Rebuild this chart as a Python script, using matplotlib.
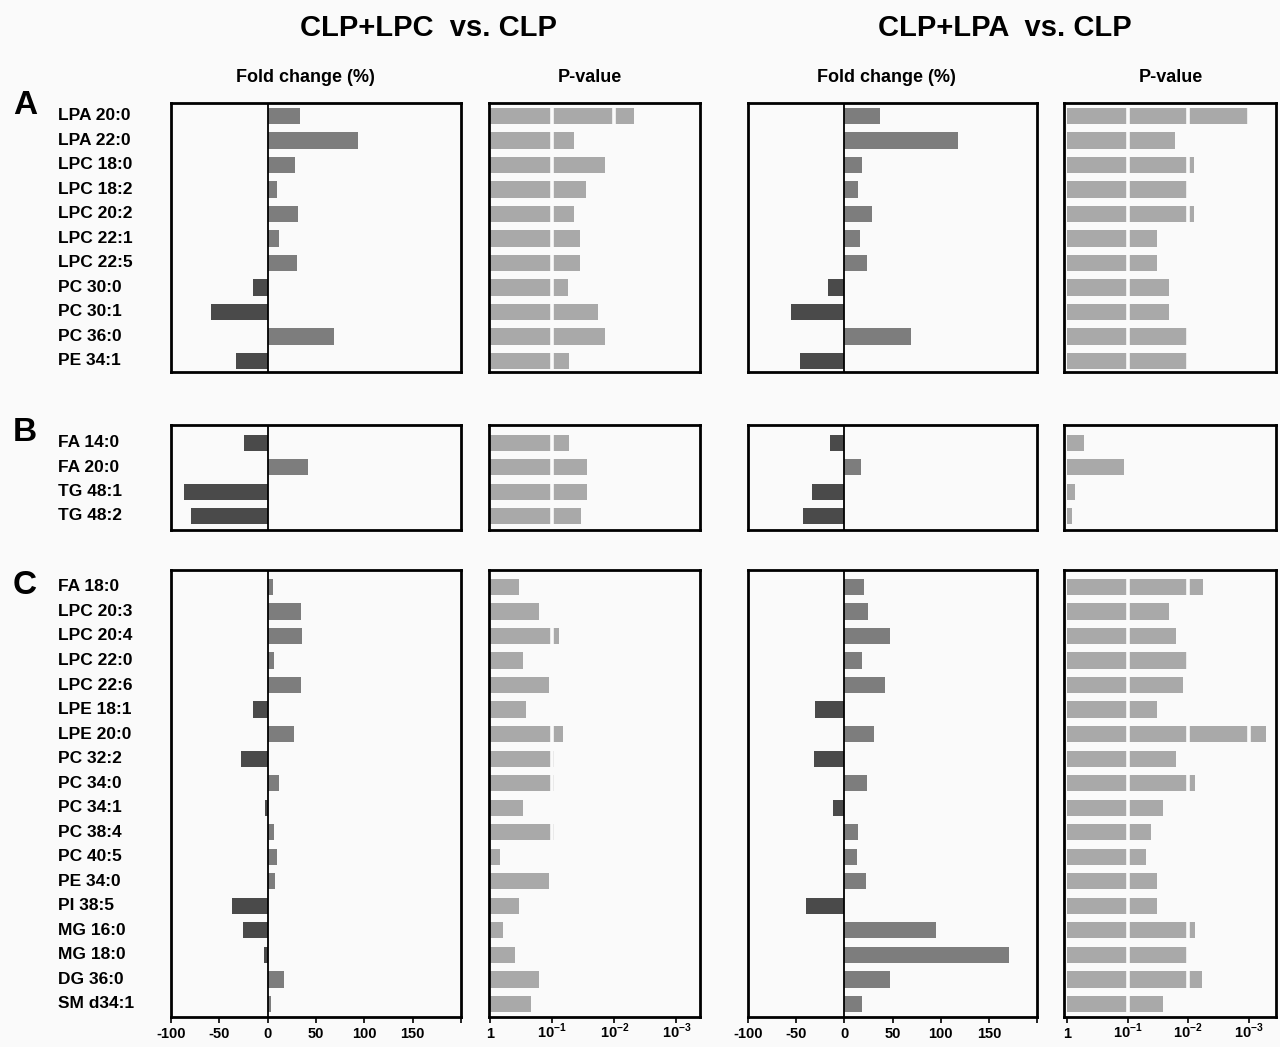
import matplotlib
matplotlib.use("Agg")
import matplotlib.pyplot as plt
import matplotlib.transforms as mtransforms
import numpy as np

plt.rcParams['font.family'] = ['Liberation Sans', 'DejaVu Sans']
plt.rcParams['font.weight'] = 'bold'
plt.rcParams['mathtext.fontset'] = 'custom'
plt.rcParams['mathtext.rm'] = 'Liberation Sans:bold'
plt.rcParams['mathtext.bf'] = 'Liberation Sans:bold'

# ---------------- data ----------------
labels_A = ["LPA 20:0", "LPA 22:0", "LPC 18:0", "LPC 18:2", "LPC 20:2", "LPC 22:1",
            "LPC 22:5", "PC 30:0", "PC 30:1", "PC 36:0", "PE 34:1"]
labels_B = ["FA 14:0", "FA 20:0", "TG 48:1", "TG 48:2"]
labels_C = ["FA 18:0", "LPC 20:3", "LPC 20:4", "LPC 22:0", "LPC 22:6", "LPE 18:1",
            "LPE 20:0", "PC 32:2", "PC 34:0", "PC 34:1", "PC 38:4", "PC 40:5",
            "PE 34:0", "PI 38:5", "MG 16:0", "MG 18:0", "DG 36:0", "SM d34:1"]

# fold change (%) CLP+LPC vs CLP
fc_lpc_A = [33, 93, 28, 10, 31, 12, 30, -15, -59, 69, -33]
fc_lpc_B = [-25, 42, -87, -79]
fc_lpc_C = [6, 34, 36, 7, 34, -15, 27, -28, 12, -3, 7, 10, 8, -37, -26, -4, 17, 3]
# -log10(p) CLP+LPC vs CLP
nlp_lpc_A = [2.31, 1.35, 1.85, 1.55, 1.35, 1.45, 1.45, 1.26, 1.74, 1.85, 1.27]
nlp_lpc_B = [1.27, 1.56, 1.56, 1.46]
nlp_lpc_C = [0.47, 0.79, 1.10, 0.52, 0.94, 0.58, 1.18, 1.02, 1.02, 0.52, 1.02, 0.15,
             0.94, 0.47, 0.21, 0.40, 0.79, 0.65]

# fold change (%) CLP+LPA vs CLP
fc_lpa_A = [37, 118, 18, 14, 29, 16, 24, -17, -55, 69, -46]
fc_lpa_B = [-15, 17.5, -33.5, -43]
fc_lpa_C = [20, 25, 47, 18, 42, -30, 31, -31, 24, -12, 14, 13, 22, -40, 95, 171, 47, 18]
# -log10(p) CLP+LPA vs CLP
nlp_lpa_A = [3.02, 1.79, 2.1, 2.0, 2.1, 1.49, 1.49, 1.69, 1.69, 2.0, 2.0]
nlp_lpa_B = [0.28, 0.94, 0.13, 0.09]
nlp_lpa_C = [2.24, 1.69, 1.80, 1.98, 1.91, 1.49, 3.29, 1.80, 2.12, 1.59, 1.39, 1.31,
             1.49, 1.49, 2.12, 1.98, 2.23, 1.59]

fc_ticks = [-100, -50, 0, 50, 100, 150, 200]
fc_ticklabels = ["-100", "-50", "0", "50", "100", "150", ""]
p_ticks = [0, 1, 2, 3]
p_ticklabels = ["1", r"$10^{-1}$", r"$10^{-2}$", r"$10^{-3}$"]

groups = [
    ("A", labels_A, fc_lpc_A, nlp_lpc_A, fc_lpa_A, nlp_lpa_A),
    ("B", labels_B, fc_lpc_B, nlp_lpc_B, fc_lpa_B, nlp_lpa_B),
    ("C", labels_C, fc_lpc_C, nlp_lpc_C, fc_lpa_C, nlp_lpa_C),
]

# ---------------- layout ----------------
W, H = 1280, 1047
BG = '#fafafa'
fig = plt.figure(figsize=(W / 100, H / 100), dpi=100, facecolor=BG)

cols_px = [(171, 461), (489, 700), (748, 1037), (1064, 1276)]
rows_px = [(103, 372), (425, 530), (570, 1017)]
row_ylims = [(10.45, -0.53), (3.58, -0.74), (17.53, -0.69)]
letter_y = [105, 432, 586]

POS = '#7d7d7d'
NEG = '#4a4a4a'
PCOL = '#a9a9a9'
BAR_H = 0.66


def make_ax(c, r):
    l, rr = cols_px[c]
    t, b = rows_px[r]
    ax = fig.add_axes([l / W, 1 - b / H, (rr - l) / W, (b - t) / H])
    ax.set_facecolor(BG)
    for s in ax.spines.values():
        s.set_linewidth(2.0)
        s.set_color('black')
    return ax


for ri, (letter, labels, fc1, p1, fc2, p2) in enumerate(groups):
    y = np.arange(len(labels))
    last = (ri == len(groups) - 1)
    for ci, (kind, vals) in enumerate([("fc", fc1), ("p", p1), ("fc", fc2), ("p", p2)]):
        ax = make_ax(ci, ri)
        vals = np.asarray(vals, dtype=float)
        if kind == "fc":
            colors = [POS if v >= 0 else NEG for v in vals]
            ax.barh(y, vals, height=BAR_H, color=colors, zorder=1)
            ax.axvline(0, color='black', lw=1.3, zorder=3)
            ax.set_xlim(-100, 200)
            ax.set_xticks(fc_ticks)
            ax.set_xticklabels(fc_ticklabels)
        else:
            ax.barh(y, vals, height=BAR_H, color=PCOL, zorder=1)
            for g in (1, 2, 3):
                ax.axvline(g, color=BG, lw=2.6, zorder=2)
            if ci == 1:
                ax.set_xlim(-0.02, 3.38)
            else:
                ax.set_xlim(-0.05, 3.45)
            ax.set_xticks(p_ticks)
            ax.set_xticklabels(p_ticklabels)
        ax.set_ylim(*row_ylims[ri])
        ax.set_yticks([])
        if last:
            ax.tick_params(axis='x', direction='out', length=4, width=1.2,
                           labelsize=10.5, pad=11)
            for tl in ax.get_xticklabels():
                tl.set_fontweight('bold')
                tl.set_verticalalignment('baseline')
        else:
            ax.set_xticks([])
        if ci == 0:
            tr = mtransforms.blended_transform_factory(fig.transFigure, ax.transData)
            for yi, lab in zip(y, labels):
                ax.text(58 / W, yi, lab, transform=tr, ha='left', va='center',
                        fontsize=12.5, fontweight='bold', clip_on=False)
            fig.text(13 / W, 1 - letter_y[ri] / H, letter, fontsize=24,
                     fontweight='bold', ha='left', va='center')

# titles
fig.text(428 / W, 1 - 28 / H, "CLP+LPC  vs. CLP", fontsize=21, fontweight='bold',
         ha='center', va='center')
fig.text(1005 / W, 1 - 28 / H, "CLP+LPA  vs. CLP", fontsize=21, fontweight='bold',
         ha='center', va='center')
for x, s in [(305, "Fold change (%)"), (590, "P-value"), (886, "Fold change (%)"),
             (1171, "P-value")]:
    fig.text(x / W, 1 - 78 / H, s, fontsize=13, fontweight='bold', ha='center',
             va='center')

fig.savefig("out.png", dpi=100, facecolor=BG)
